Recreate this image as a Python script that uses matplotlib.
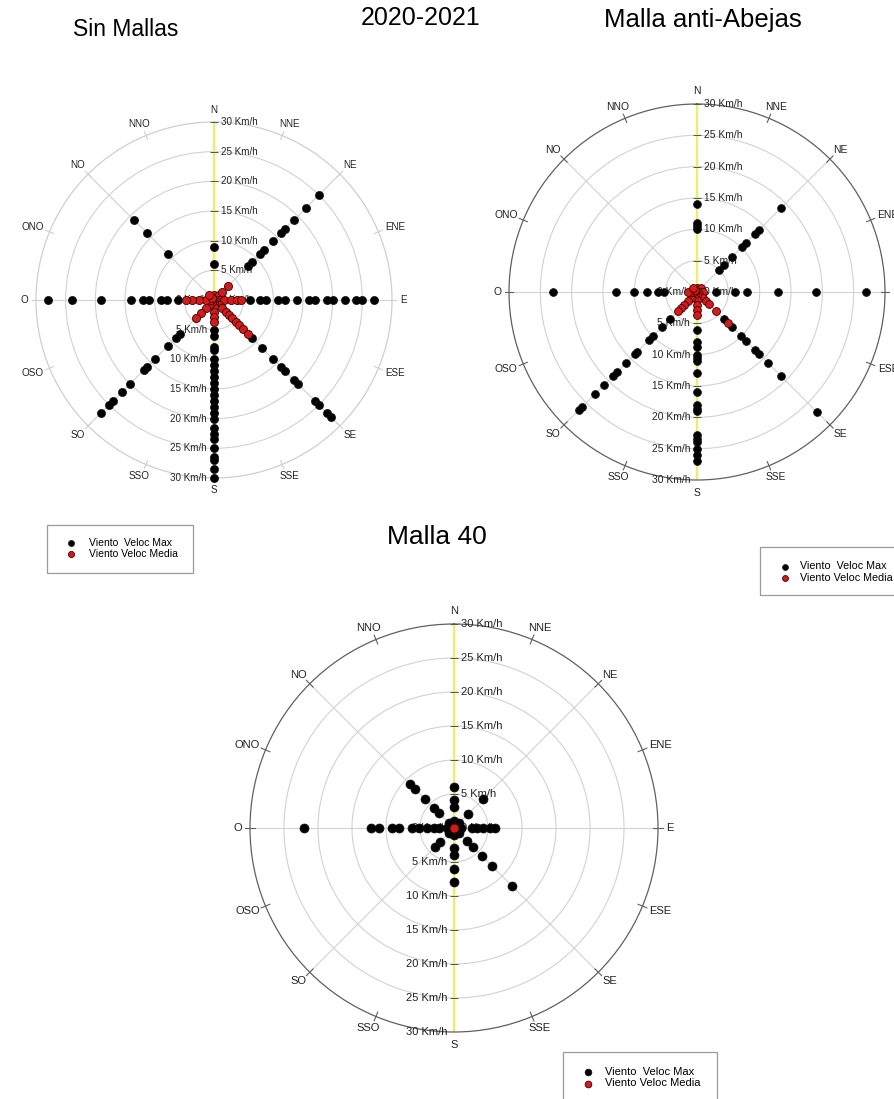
import numpy as np
import matplotlib
matplotlib.use('Agg')
import matplotlib.pyplot as plt
from matplotlib.patches import Rectangle

plt.rcParams['font.family'] = ['Liberation Sans', 'DejaVu Sans']

W_PX, H_PX = 894, 1099
DIR16 = ['N', 'NNE', 'NE', 'ENE', 'E', 'ESE', 'SE', 'SSE',
         'S', 'SSO', 'SO', 'OSO', 'O', 'ONO', 'NO', 'NNO']
RINGS = [0, 5, 10, 15, 20, 25, 30]

# ---------------- data (km/h by direction) ----------------
sin_max = {
    'N':  [6, 9],
    'NE': [8, 9, 11, 12, 14, 16, 17, 19, 22, 25],
    'E':  [6, 7.7, 8.8, 10.8, 12, 14, 16, 17, 19, 20, 22, 24, 25, 27],
    'SE': [9, 11.5, 14, 16, 17, 19, 20, 24, 25, 27, 28],
    'S':  [5, 6, 8, 8.5, 10, 11, 12, 13, 14, 15, 16, 17, 18, 19, 20, 21.5,
           22.5, 23.5, 25, 26.5, 27, 28.5, 30],
    'SO': [8, 9, 11, 14, 16, 16.6, 20, 22, 24, 25, 27],
    'O':  [6, 8, 9, 11, 12, 14, 19, 24, 28],
    'NO': [11, 16, 19],
}
sin_media = {
    'N':  [0.3, 0.8],
    'NE': [0.5, 1.2, 2.0, 3.3],
    'E':  [0.5, 1.0, 1.7, 2.8, 3.9, 4.5],
    'SE': [0.5, 1.2, 2.0, 2.8, 3.6, 4.4, 5.2, 6.0, 7.0, 8.0],
    'S':  [0.5, 1.1, 2.0, 2.8, 3.7],
    'SO': [0.5, 1.2, 2.0, 3.2, 4.4],
    'O':  [0.5, 1.4, 2.5, 3.7, 4.8],
    'NO': [0.5, 1.2],
}
abejas_max = {
    'N':  [10, 10.5, 11, 14],
    'NE': [5, 6, 8, 10.2, 11, 13, 14, 19],
    'E':  [3, 6, 8, 13, 19, 27],
    'SE': [6, 8, 10, 11, 13, 14, 16, 19, 27],
    'S':  [6, 8, 8.7, 10, 10.5, 11, 13, 16, 18, 18.6, 19, 22.8, 23.4, 24,
           25, 26, 27],
    'SO': [6, 8, 10, 10.8, 13.5, 14, 16, 18, 19, 21, 23, 26, 26.7],
    'O':  [5.2, 6.2, 8, 10, 13, 23],
    'NO': [],
}
abejas_media = {
    'N':  [0.3, 0.7],
    'NE': [0.5, 1.0],
    'E':  [0.5, 1.0],
    'SE': [0.5, 1.4, 2.1, 2.7, 4.2, 7.0],
    'S':  [0.5, 1.2, 2.0, 2.8, 3.7],
    'SO': [0.5, 1.3, 2.0, 2.9, 3.5, 4.3],
    'O':  [0.5, 1.0, 1.5],
    'NO': [0.5, 1.0],
}
malla40_max = {
    'N':  [0.5, 1, 3.1, 4.1, 6],
    'NE': [0.5, 1, 3, 6],
    'E':  [0.5, 1, 2.6, 3.4, 4.3, 5.3, 6],
    'SE': [0.5, 1, 2.8, 3.9, 5.9, 7.9, 12],
    'S':  [0.5, 1, 2.9, 3.9, 6, 7.9],
    'SO': [0.5, 1, 3, 4],
    'O':  [0.5, 1, 2.2, 3, 4, 5.2, 6.2, 8.1, 9.1, 11, 12.2, 22],
    'NO': [0.5, 1, 3.1, 4.1, 6.1, 8.1, 9.2],
}
malla40_media = {
    'N': [0.0],
}

legend_labels = ['Viento  Veloc Max', 'Viento Veloc Media']

fig = plt.figure(figsize=(W_PX / 100, H_PX / 100), dpi=100)


def px_rect(cx, cy, r):
    return [(cx - r) / W_PX, 1 - (cy + r) / H_PX, 2 * r / W_PX, 2 * r / H_PX]


def to_polar(data):
    th, rr = [], []
    for d, vals in data.items():
        a = np.deg2rad(DIR16.index(d) * 22.5)
        for v in vals:
            th.append(a)
            rr.append(v)
    return th, rr


def panel(cx, cy, r, vmax, vmed, outer_col, fs, ms):
    ax = fig.add_axes(px_rect(cx, cy, r), projection='polar')
    ax.set_theta_zero_location('N')
    ax.set_theta_direction(-1)
    ax.set_facecolor('none')
    ax.set_thetagrids(np.arange(0, 360, 45), labels=[])
    ax.set_rgrids([5, 10, 15, 20, 25], labels=[])
    ax.grid(True, color='#d2d2d2', lw=0.8)
    ax.spines['polar'].set_color(outer_col)
    ax.spines['polar'].set_linewidth(0.9)
    # yellow N-S axis
    for a in (0, np.pi):
        ax.plot([a, a], [0, 30], color='#eded6a', lw=1.7, zorder=2,
                solid_capstyle='butt')
    # axis ticks and labels
    for v in RINGS:
        ax.plot([0], [v], marker='_', ms=6, mew=0.7, color='#555555', zorder=3)
        ax.plot([np.pi], [v], marker='_', ms=6, mew=0.7, color='#555555', zorder=3)
        ax.annotate(f'{v} Km/h', xy=(0, v), xytext=(5, 0), textcoords='offset points',
                    ha='left', va='center', fontsize=fs, color='#222222', zorder=3,
                    annotation_clip=False)
        ax.annotate(f'{v} Km/h', xy=(np.pi, v), xytext=(-5, 0), textcoords='offset points',
                    ha='right', va='center', fontsize=fs, color='#222222', zorder=3,
                    annotation_clip=False)
    # compass ticks and labels
    for i, name in enumerate(DIR16):
        a = np.deg2rad(i * 22.5)
        if name not in ('N', 'S'):
            ax.plot([a, a], [29.3, 30.7], color=outer_col, lw=0.8, clip_on=False, zorder=3)
        s, c = np.sin(a), np.cos(a)
        hw = len(name) * fs * 0.34
        hh = fs * 0.42
        gap = 6.0
        ax.annotate(name, xy=(a, 30), xytext=(s * (gap + hw), c * (gap + hh)),
                    textcoords='offset points', ha='center', va='center',
                    fontsize=fs, color='#222222', annotation_clip=False)
    th, rr = to_polar(vmax)
    h1 = ax.scatter(th, rr, s=ms, c='black', edgecolors='#111111', linewidths=0.5,
                    zorder=5, clip_on=False)
    th, rr = to_polar(vmed)
    h2 = ax.scatter(th, rr, s=ms, c='#d21c1c', edgecolors='#3a0000', linewidths=0.6,
                    zorder=6, clip_on=False)
    ax.set_ylim(0, 30)
    return h1, h2


def legend_box(handles, x0, y0, x1, y1, mx, tx, ry1, ry2, fs):
    fig.patches.append(Rectangle((x0 / W_PX, 1 - y1 / H_PX), (x1 - x0) / W_PX,
                                 (y1 - y0) / H_PX, transform=fig.transFigure,
                                 fill=False, edgecolor='#9a9a9a', lw=0.9))
    fpx = fs * 100 / 72
    hl = 0.8
    pad = (tx - mx - hl * fpx / 2) / fpx
    fig.legend(handles, legend_labels, loc='center left',
               bbox_to_anchor=((mx - hl * fpx / 2) / W_PX, 1 - (ry1 + ry2) / 2 / H_PX),
               frameon=False, fontsize=fs, handlelength=hl, handletextpad=pad,
               labelspacing=(ry2 - ry1 + 1.5 - fpx) / fpx, borderpad=0, borderaxespad=0,
               scatterpoints=1, markerscale=0.75)


h = panel(214, 300, 178, sin_max, sin_media, '#cfcfcf', 7.1, 34)
legend_box(h, 47.3, 525, 192.7, 573, 70.7, 89.3, 543.3, 553.3, 7.5)

h = panel(697, 292, 188, abejas_max, abejas_media, '#606060', 7.4, 32)
legend_box(h, 760, 546.7, 910, 595, 785, 800, 566.7, 577.7, 7.75)

h = panel(454, 828, 204, malla40_max, malla40_media, '#606060', 8.0, 42)
legend_box(h, 563.3, 1051.7, 716.7, 1110, 588.3, 605, 1071.7, 1083.3, 8.0)

fig.text(125.5 / W_PX, 1 - 30 / H_PX, 'Sin Mallas', ha='center', va='center', fontsize=16.5)
fig.text(421 / W_PX, 1 - 18 / H_PX, '2020-2021', ha='center', va='center', fontsize=18)
fig.text(703 / W_PX, 1 - 20 / H_PX, 'Malla anti-Abejas', ha='center', va='center', fontsize=18.5)
fig.text(437 / W_PX, 1 - 537 / H_PX, 'Malla 40', ha='center', va='center', fontsize=19)

fig.savefig('out.png', dpi=100)
